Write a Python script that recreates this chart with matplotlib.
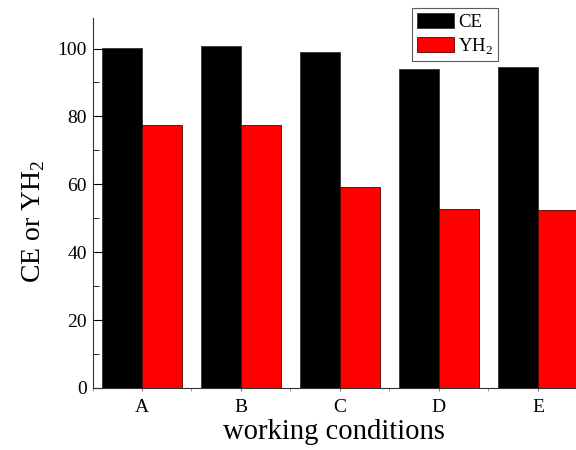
import numpy as np
import matplotlib.pyplot as plt
from matplotlib.ticker import MultipleLocator

# working conditions and the two series
conditions = ["A", "B", "C", "D", "E"]
ce = [100.3, 100.7, 99.1, 93.9, 94.5]
yh2 = [77.5, 77.5, 59.2, 52.6, 52.3]

plt.rcParams['font.family'] = ['Liberation Serif', 'DejaVu Serif']
plt.rcParams['mathtext.fontset'] = 'custom'
plt.rcParams['mathtext.rm'] = 'Liberation Serif'

fig = plt.figure(figsize=(5.76, 4.5), dpi=100)
ax = fig.add_axes([92.5 / 576, 62 / 450, 1 - 92.5 / 576, 370 / 450])

x = np.arange(len(conditions))
w = 0.4
ax.bar(x - w / 2, ce, w, color="black", edgecolor="#333333", linewidth=0.6, label="CE")
ax.bar(x + w / 2, yh2, w, color="red", edgecolor="#550000", linewidth=0.6, label="YH$_\\mathrm{2}$")

ax.set_xlim(-0.5, 4.385)
ax.set_ylim(0, 109)
ax.set_xticks(x)
ax.set_xticklabels(conditions)
ax.xaxis.set_minor_locator(MultipleLocator(0.5))
ax.yaxis.set_major_locator(MultipleLocator(20))
ax.yaxis.set_minor_locator(MultipleLocator(10))

ax.spines['top'].set_visible(False)
ax.spines['right'].set_visible(False)
ax.spines['left'].set_color("#333333")
ax.spines['bottom'].set_color("#333333")

ax.tick_params(axis='y', which='major', direction='in', length=7, labelsize=14, pad=4)
ax.tick_params(axis='y', which='minor', direction='in', length=4)
ax.tick_params(axis='x', which='both', direction='out', length=2, labelsize=14, pad=6,
               color="#888888")

ax.set_xlabel("working conditions", fontsize=20.6, labelpad=2)
ax.set_ylabel("CE or YH$_\\mathrm{2}$", fontsize=20)
ax.yaxis.set_label_coords(-0.095, 0.45)

leg = ax.legend(loc="upper left", bbox_to_anchor=(412 / 576, 1 - 8 / 450),
                bbox_transform=fig.transFigure, fontsize=13.5, frameon=True, fancybox=False,
                edgecolor="#333333", handlelength=2.0, handleheight=0.85, borderpad=0.25,
                labelspacing=0.3, handletextpad=0.2, borderaxespad=0)
leg.get_frame().set_linewidth(0.8)

plt.savefig("out.png", dpi=100)
